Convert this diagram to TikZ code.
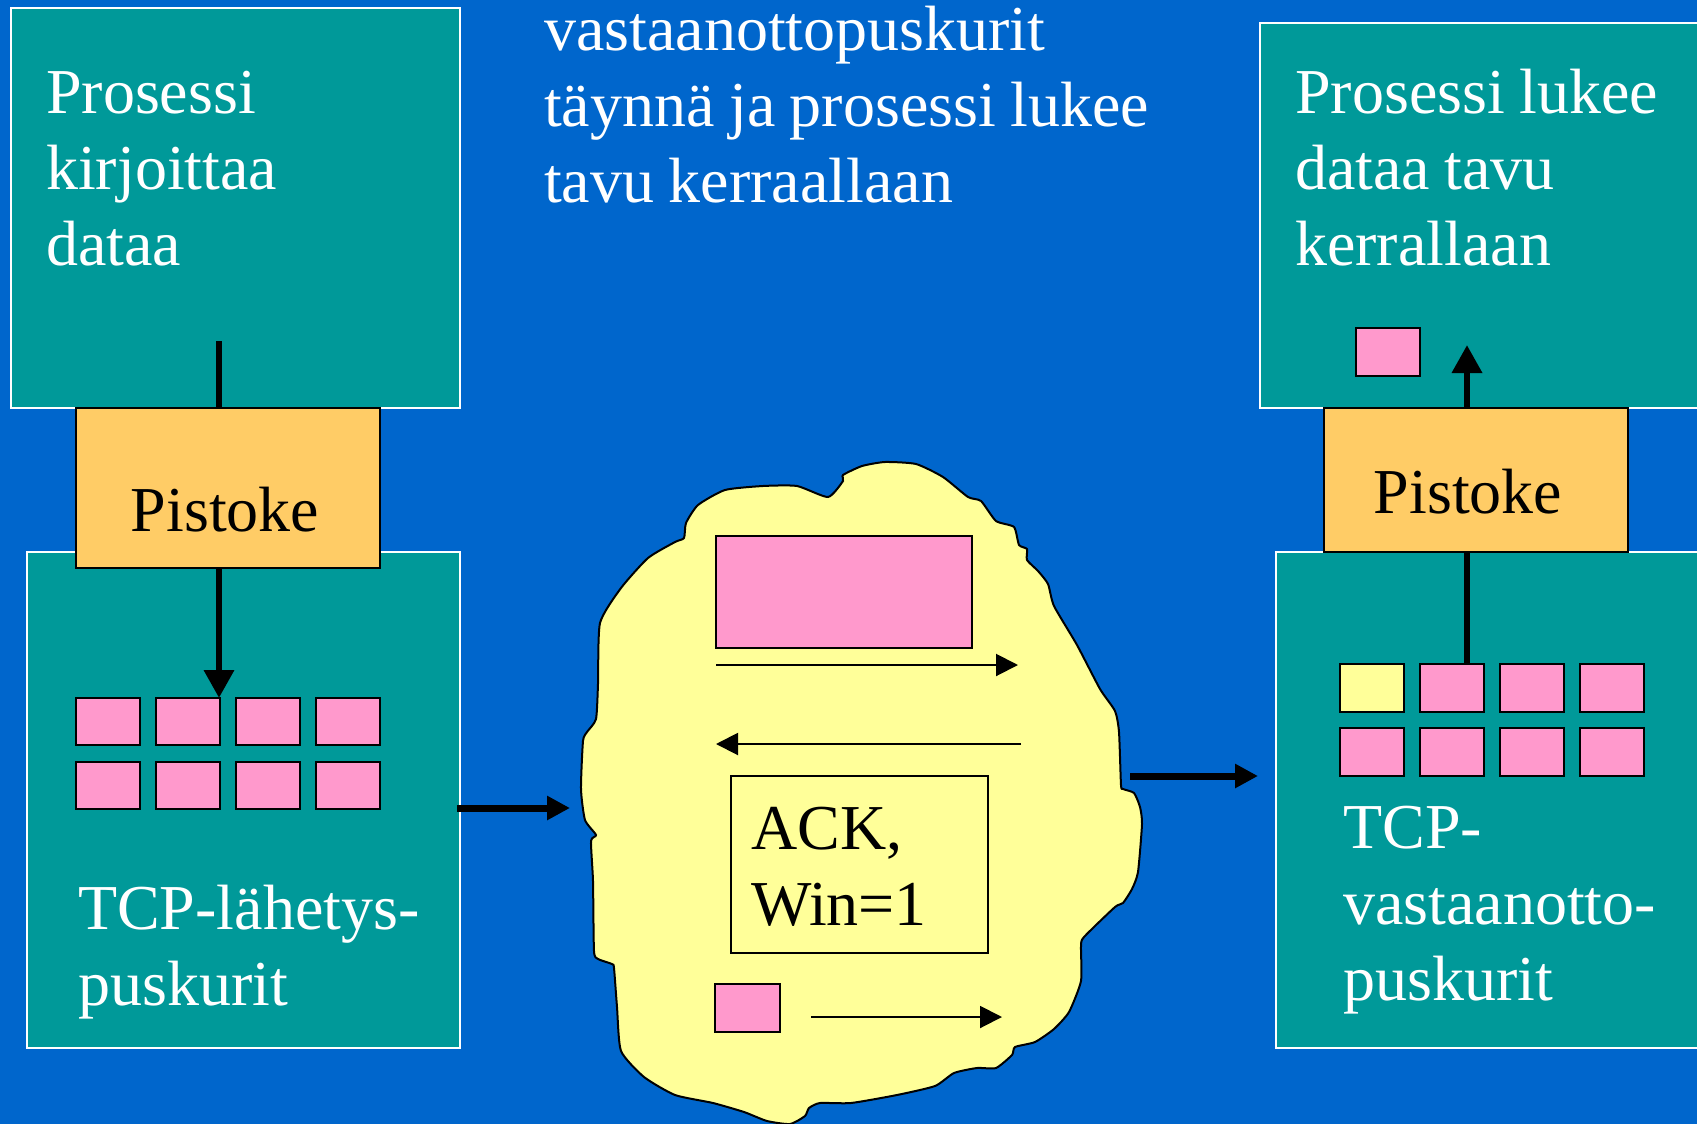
\documentclass[tikz,border=0pt]{standalone}
\usepackage{fontspec}
\setmainfont{Liberation Serif}
\usetikzlibrary{positioning,arrows.meta}

\definecolor{slideblue}{RGB}{0,102,204}
\definecolor{boxteal}{RGB}{0,153,153}
\definecolor{sockorange}{RGB}{255,204,102}
\definecolor{bytepink}{RGB}{255,153,204}
\definecolor{netyellow}{RGB}{255,255,153}

\tikzset{
  tealbox/.style={draw=white,line width=2pt,fill=boxteal,anchor=north west,inner sep=0pt,outer sep=0pt},
  sockbox/.style={draw=black,line width=2pt,fill=sockorange,anchor=north west,inner sep=0pt,outer sep=0pt},
  bytebox/.style={draw=black,line width=2.5pt,fill=bytepink,anchor=north west,inner sep=0pt,outer sep=0pt,minimum width=64pt,minimum height=47pt},
  wtext/.style={text=white,anchor=base west,inner sep=0pt,text width=720pt,align=left,
    execute at begin node={\spaceskip=0.225em\relax}},
  btext/.style={text=black,anchor=base west,inner sep=0pt,text width=300pt,align=left},
  thickline/.style={line width=6.5pt},
  thickarr/.style={line width=6.5pt,-{Triangle[length=28pt,width=29pt]}},
  sendarr/.style={line width=7pt,-{Triangle[length=23pt,width=23pt]}},
  thinarr/.style={line width=2pt,-{Triangle[length=22pt,width=22pt]}}
}

\begin{document}
\begin{tikzpicture}[x=1pt,y=-1pt,font=\fontsize{64}{76}\selectfont]
\useasboundingbox (0,0) rectangle (1697,1124);
\fill[slideblue] (0,0) rectangle (1697,1124);
\clip (0,0) rectangle (1697,1124);

\node[tealbox,minimum width=433pt,minimum height=496pt] (sendL) at (27,552) {};
\node[tealbox,minimum width=449pt,minimum height=400pt] (procL) at (11,8) {};
\node[sockbox,minimum width=304pt,minimum height=160pt] (sockL) at (76,408) {};
\node[wtext] (procLtext) at (46,113) {Prosessi\\kirjoittaa\\dataa};
\node[text=black,anchor=base,inner sep=0pt] (sockLtext) at (225,531) {Pistoke};
\node[wtext] (sendLtext) at (78,929) {TCP-lähetys-\\puskurit};

\node[bytebox] (bL11) at (76,698) {};
\node[bytebox] (bL12) at (156,698) {};
\node[bytebox] (bL13) at (236,698) {};
\node[bytebox] (bL14) at (316,698) {};
\node[bytebox] (bL21) at (76,762) {};
\node[bytebox] (bL22) at (156,762) {};
\node[bytebox] (bL23) at (236,762) {};
\node[bytebox] (bL24) at (316,762) {};

\coordinate (wrL) at (219,341);
\draw[thickline] (wrL) -- (wrL |- sockL.north);
\draw[thickarr] (bL12.north west -| wrL) ++(0,-130) -- (bL12.north west -| wrL);

\node[wtext] (title) at (544,51) {vastaanottopuskurit\\täynnä ja prosessi lukee\\tavu kerraallaan};

\draw[line width=2pt,fill=netyellow] plot[smooth cycle,tension=0.35] coordinates {
  (600,623) (621,588) (648,558) (675,542) (684,538) (686,523) (698,505) (725,490)
  (763,486) (797,486) (828,497) (843,481) (843,475) (862,466) (885,462) (916,464)
  (943,477) (968,497) (981,501) (996,521) (1014,527) (1019,545) (1027,549) (1027,560)
  (1038,571) (1048,584) (1054,606) (1077,645) (1100,689) (1115,711) (1119,732) (1121,785)
  (1123,789) (1134,793) (1140,807) (1142,824) (1138,872) (1132,889) (1123,903) (1115,907)
  (1084,937) (1081,946) (1081,981) (1069,1012) (1054,1029) (1035,1042) (1015,1047) (1012,1055)
  (996,1068) (977,1068) (954,1073) (935,1086) (897,1095) (851,1103) (820,1103) (809,1108)
  (805,1116) (790,1124) (767,1121) (744,1112) (713,1103) (675,1095) (644,1077) (621,1051)
  (617,1007) (614,968) (612,964) (598,959) (594,951) (593,881) (591,841) (596,835)
  (585,820) (581,789) (583,741) (587,732) (596,719) (598,684)};

\node[bytebox,minimum width=256pt,minimum height=112pt] (segbig) at (716,536) {};
\coordinate (dat1a) at (716,665);
\coordinate (dat1b) at (1018,665);
\draw[thinarr] (dat1a) -- (dat1b);
\coordinate (ack1a) at (1021,744);
\coordinate (ack1b) at (716,744);
\draw[thinarr] (ack1a) -- (ack1b);
\node[draw=black,line width=2pt,fill=netyellow,anchor=north west,inner sep=0pt,outer sep=0pt,minimum width=257pt,minimum height=177pt] (ack) at (731,776) {};
\node[btext] (acktext) at (751,849) {ACK,\\Win=1};
\node[bytebox,minimum width=65pt,minimum height=48pt] (segsmall) at (715,984) {};
\coordinate (dat2a) at (811,1017);
\coordinate (dat2b) at (1002,1017);
\draw[thinarr] (dat2a) -- (dat2b);

\coordinate (cloudin) at (570,808);
\draw[sendarr] (sendL.east |- cloudin) ++(-3,0) -- (cloudin);

\node[tealbox,minimum width=440pt,minimum height=496pt] (recvR) at (1276,552) {};
\node[tealbox,minimum width=460pt,minimum height=385pt] (procR) at (1260,23) {};
\node[sockbox,minimum width=304pt,minimum height=144pt] (sockR) at (1324,408) {};
\node[wtext] (procRtext) at (1295,113) {Prosessi lukee\\dataa tavu\\kerrallaan};
\node[text=black,anchor=base,inner sep=0pt] (sockRtext) at (1468,513) {Pistoke};
\node[wtext] (recvRtext) at (1343,848) {TCP-\\vastaanotto-\\puskurit};

\node[bytebox,fill=netyellow,minimum height=48pt] (bR11) at (1340,664) {};
\node[bytebox,minimum height=48pt] (bR12) at (1420,664) {};
\node[bytebox,minimum height=48pt] (bR13) at (1500,664) {};
\node[bytebox,minimum height=48pt] (bR14) at (1580,664) {};
\node[bytebox,minimum height=48pt] (bR21) at (1340,728) {};
\node[bytebox,minimum height=48pt] (bR22) at (1420,728) {};
\node[bytebox,minimum height=48pt] (bR23) at (1500,728) {};
\node[bytebox,minimum height=48pt] (bR24) at (1580,728) {};
\node[bytebox,minimum height=48pt] (readbyte) at (1356,328) {};

\coordinate (rdx) at (1467,664);
\draw[thickline] (rdx |- sockR.south) -- (rdx);
\coordinate (rup) at (1467,345);
\draw[thickarr] (rup |- sockR.north) -- (rup);

\coordinate (cloudout) at (1130,776);
\coordinate (recvin) at (1258,776);
\draw[sendarr] (cloudout) -- (recvin);
\end{tikzpicture}
\end{document}
